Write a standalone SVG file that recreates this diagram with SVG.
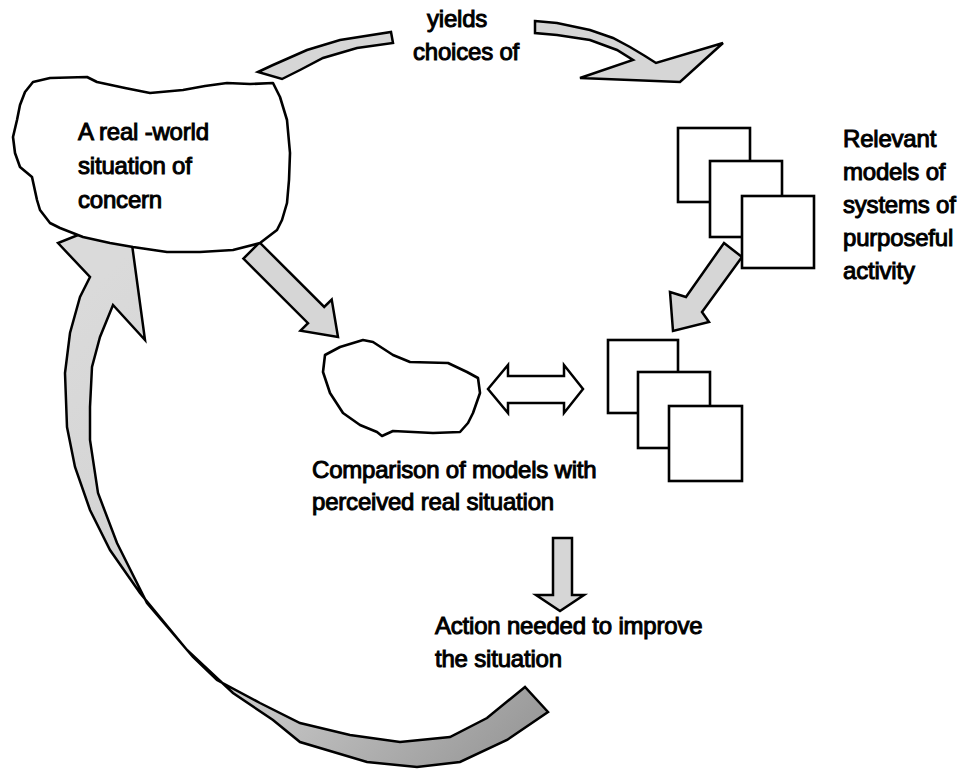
<svg xmlns="http://www.w3.org/2000/svg" width="966" height="770" viewBox="0 0 966 770">
<defs>
<linearGradient id="arcGrad" gradientUnits="userSpaceOnUse" x1="80" y1="300" x2="520" y2="740">
<stop offset="0" stop-color="#dadada"/>
<stop offset="0.6" stop-color="#cfcfcf"/>
<stop offset="1" stop-color="#9a9a9a"/>
</linearGradient>
</defs>
<style>
.arrow{fill:#d6d6d6;stroke:#000;stroke-width:2.5;stroke-linejoin:miter}
.arrow-w{fill:#fff;stroke:#000;stroke-width:2.5;stroke-linejoin:miter}
.cloud{fill:#fff;stroke:#000;stroke-width:2.6;stroke-linejoin:round}
.box{fill:#fff;stroke:#000;stroke-width:2.6}
.lbl{font-family:"Liberation Sans",Arial,sans-serif;font-size:24px;fill:#000;stroke:#000;stroke-width:1;letter-spacing:-0.2px}
</style>
<rect width="966" height="770" fill="#fff"/>
<g id="connectors">
<path id="arc-return" class="arrow" style="fill:url(#arcGrad)" d="M58,243 L90,277 L80,297 L70,333 L65,373 L67,427 L75,467 L90,510 L110,550 L140,593 L187,650 L233,693 L273,720 L300,742 L367,762 L417,767 L460,762 L507,740 L548,712 L525,687 L487,718 L450,737 L400,742 L350,735 L300,723 L260,703 L217,680 L193,657 L147,603 L117,543 L98,493 L90,440 L90,407 L92,367 L100,337 L113,305 L145,340 L128,215 Z"/>
<path id="arrow-yields-left" class="arrow" d="M258,72 L273,65 L307,50 L340,40 L391,32 L393,43 L357,48 L323,58 L300,70 L282,79 Z"/>
<path id="arrow-yields-right" class="arrow" d="M535,21 L557,23 L590,30 L613,38 L630,47 L645,56 L656,63 L723,43 L680,82 L580,78 L633,60 L617,50 L590,40 L557,35 L535,33 Z"/>
<path id="arrow-situation-comparison" class="arrow" d="M243.4,258.6 L259.6,242.4 L324.2,307 L331.7,299.5 L338,337 L300.5,330.7 L308,323.2 Z"/>
<path id="arrow-models-comparison" class="arrow" d="M724,243 L742,257 L702,312 L709,322 L673,331 L670,292 L686,297 Z"/>
<path id="arrow-compare" class="arrow-w" d="M488,389 L508,365 L508,376 L564,376 L564,365 L583,389 L564,413 L564,403 L508,403 L508,413 Z"/>
<path id="arrow-action" class="arrow" d="M553,538 L572,538 L572,595 L584,595 L560,611 L536,595 L553,595 Z"/>
</g>
<g id="node-situation">
<path class="cloud" d="M25,92 L33,82 L50,78 L87,77 L97,82 L125,88 L150,93 L183,90 L205,86 L227,83 L250,84 L273,83 L280,97 L287,120 L290,153 L289,180 L287,203 L282,220 L277,230 L260,243 L233,250 L200,252 L167,252 L133,247 L110,243 L83,237 L60,228 L50,223 L40,210 L37,200 L32,177 L20,167 L15,153 L13,137 L17,120 L20,105 Z"/>
<text class="lbl" x="78" y="140">A real -world</text>
<text class="lbl" x="78" y="174">situation of</text>
<text class="lbl" x="78" y="208">concern</text>
</g>
<g id="node-yields">
<text class="lbl" x="427" y="27">yields</text>
<text class="lbl" x="413" y="60">choices of</text>
</g>
<g id="node-models">
<rect class="box" x="678" y="128" width="72" height="74"/>
<rect class="box" x="710" y="161" width="72" height="76"/>
<rect class="box" x="742" y="196" width="72" height="72"/>
<text class="lbl" x="843" y="147">Relevant</text>
<text class="lbl" x="843" y="180">models of</text>
<text class="lbl" x="843" y="213">systems of</text>
<text class="lbl" x="843" y="246">purposeful</text>
<text class="lbl" x="843" y="279">activity</text>
</g>
<g id="node-comparison">
<path class="cloud" d="M325,355 L340,347 L363,340 L373,342 L393,355 L410,362 L448,363 L467,372 L478,378 L480,393 L473,413 L468,423 L460,432 L433,433 L393,431 L382,436 L377,432 L360,425 L343,413 L330,393 L323,372 Z"/>
<rect class="box" x="608" y="340" width="70" height="73"/>
<rect class="box" x="638" y="372" width="72" height="76"/>
<rect class="box" x="669" y="406" width="73" height="75"/>
<text class="lbl" x="312" y="478">Comparison of models with</text>
<text class="lbl" x="312" y="510">perceived real situation</text>
</g>
<g id="node-action">
<text class="lbl" x="435" y="634">Action needed to improve</text>
<text class="lbl" x="435" y="667">the situation</text>
</g>
</svg>
